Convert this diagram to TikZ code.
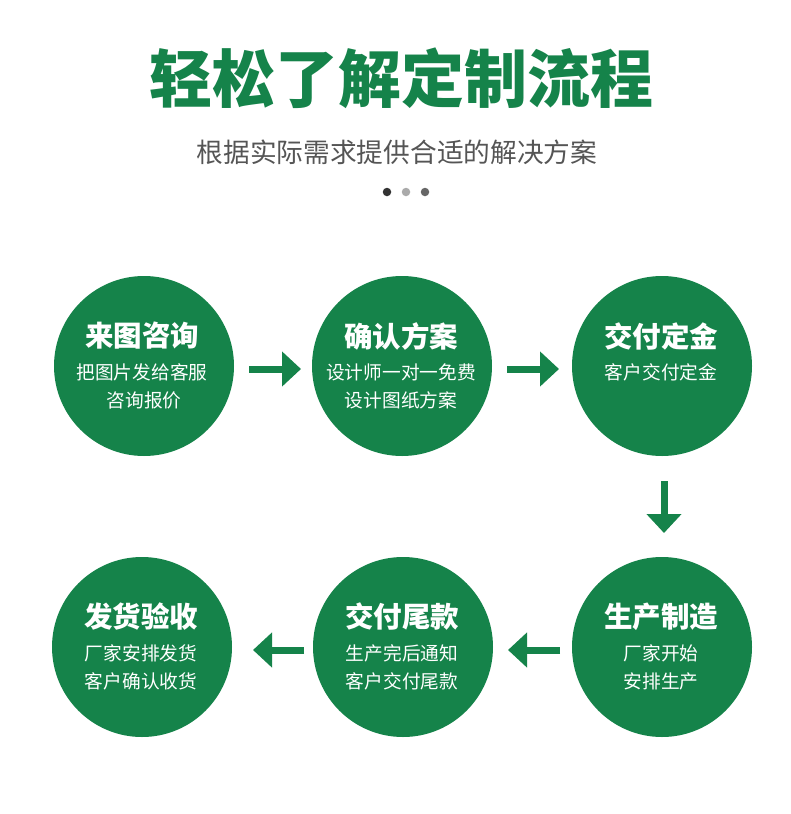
\documentclass[tikz,border=0pt]{standalone}
\usepackage{fontspec}
\newfontfamily\cjk{Noto Sans CJK SC}
\usetikzlibrary{arrows.meta}
\definecolor{pgreen}{RGB}{21,131,74}
\definecolor{subgray}{RGB}{85,85,85}
\tikzset{
  stepcircle/.style={circle,fill=pgreen,minimum size=180pt,inner sep=0pt},
  ctitle/.style={text=white,font=\cjk\bfseries\fontsize{28.5}{31}\selectfont,inner sep=0pt},
  cbody/.style={text=white,font=\cjk\fontsize{18.7}{22}\selectfont,inner sep=0pt},
  flowarrow/.style={draw=pgreen,line width=7pt,-{Triangle[length=19pt,width=34pt]}},
  dotmark/.style={circle,minimum size=8.5pt,inner sep=0pt}
}
\begin{document}
\begin{tikzpicture}[x=1pt,y=-1pt]
\useasboundingbox (0,0) rectangle (790,814);
\node[text=pgreen,font=\cjk\bfseries\fontsize{63}{70}\selectfont,inner sep=0pt] (title) at (401,78) {轻松了解定制流程};
\node[text=subgray,font=\cjk\fontsize{26.7}{32}\selectfont,inner sep=0pt] (sub) at (397,152) {根据实际需求提供合适的解决方案};
\node[dotmark,fill={rgb,255:red,51;green,51;blue,51}] (d1) at (387,192) {};
\node[dotmark,fill={rgb,255:red,170;green,170;blue,170}] (d2) at (406,192) {};
\node[dotmark,fill={rgb,255:red,102;green,102;blue,102}] (d3) at (425,192) {};

% row 1
\node[stepcircle] (c1) at (144,366) {};
\node[stepcircle] (c2) at (402,366) {};
\node[stepcircle] (c3) at (662,366) {};
% row 2
\node[stepcircle] (c6) at (142,647) {};
\node[stepcircle] (c5) at (403,647) {};
\node[stepcircle] (c4) at (662,647) {};

\node[ctitle] (t1) at (142,336) {来图咨询};
\node[cbody] (b1a) at (142,372) {把图片发给客服};
\node[cbody] (b1b) at (144,400) {咨询报价};

\node[ctitle] (t2) at (401,336) {确认方案};
\node[cbody] (b2a) at (401,372) {设计师一对一免费};
\node[cbody] (b2b) at (401,400) {设计图纸方案};

\node[ctitle] (t3) at (661,336) {交付定金};
\node[cbody] (b3a) at (661,372) {客户交付定金};

\node[ctitle] (t4) at (661,617) {生产制造};
\node[cbody] (b4a) at (661,653) {厂家开始};
\node[cbody] (b4b) at (661,681) {安排生产};

\node[ctitle] (t5) at (402,617) {交付尾款};
\node[cbody] (b5a) at (402,653) {生产完后通知};
\node[cbody] (b5b) at (402,681) {客户交付尾款};

\node[ctitle] (t6) at (141,617) {发货验收};
\node[cbody] (b6a) at (141,653) {厂家安排发货};
\node[cbody] (b6b) at (141,681) {客户确认收货};

% arrows
\coordinate (a1s) at (249,369); \coordinate (a1e) at (301,369);
\coordinate (a2s) at (507,369); \coordinate (a2e) at (559,369);
\coordinate (a3s) at (664,481); \coordinate (a3e) at (664,533);
\coordinate (a4s) at (560,650); \coordinate (a4e) at (508,650);
\coordinate (a5s) at (304,650); \coordinate (a5e) at (253,650);
\draw[flowarrow] (a1s) -- (a1e);
\draw[flowarrow] (a2s) -- (a2e);
\draw[flowarrow] (a3s) -- (a3e);
\draw[flowarrow] (a4s) -- (a4e);
\draw[flowarrow] (a5s) -- (a5e);
\end{tikzpicture}
\end{document}
